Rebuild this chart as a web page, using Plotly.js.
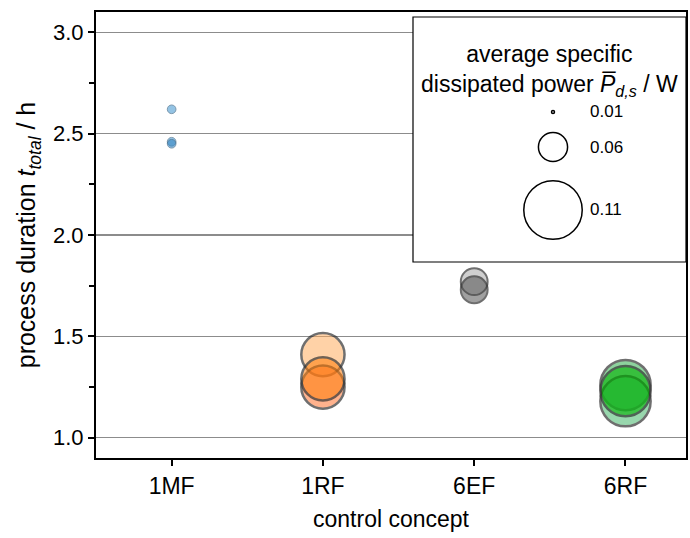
<!DOCTYPE html>
<html>
<head>
<meta charset="utf-8">
<script src="https://cdn.plot.ly/plotly-3.0.1.min.js"></script>
<style>html,body{margin:0;padding:0;background:#fff;}#chart{width:690px;height:538px;}</style>
</head>
<body>
<div id="chart"></div>
<script>
// ---- data ----
const categories = ['1MF', '1RF', '6EF', '6RF'];
// each point: concept, process duration (h), average specific dissipated power (W)
const pointConcept = ['1MF', '1MF', '1MF', '1RF', '1RF', '1RF', '6EF', '6EF', '6RF', '6RF', '6RF'];
const pointDuration = [2.62, 2.46, 2.45, 1.41, 1.25, 1.29, 1.77, 1.73, 1.26, 1.18, 1.23];
const pointPower = [0.025, 0.025, 0.025, 0.084, 0.084, 0.084, 0.056, 0.056, 0.096, 0.096, 0.096];
const legendPower = [0.01, 0.06, 0.11];
const legendLabels = ['0.01', '0.06', '0.11'];

// ---- styles ----
const pointFill = [
  'rgba(75,155,210,0.85)', 'rgba(75,155,210,0.85)', 'rgba(55,135,195,0.85)',
  'rgba(255,170,90,0.75)', 'rgba(255,110,40,0.75)', 'rgba(255,125,10,0.8)',
  'rgba(165,165,165,0.75)', 'rgba(75,75,75,0.75)',
  'rgba(40,170,70,0.75)', 'rgba(60,180,100,0.75)', 'rgba(0,180,0,0.85)'
];
const pointLine = [
  'rgba(60,100,130,0.9)', 'rgba(60,100,130,0.9)', 'rgba(60,100,130,0.9)',
  '#333', '#333', '#333', '#333', '#333', '#333', '#333', '#333'
];
const pointLineW = [1, 1, 1, 2.5, 2.5, 2.5, 2, 2, 2.5, 2.5, 2.5];
// legend placement in pixels (layout only)
const plotL = 96, plotW = 590, plotB = 458, plotH = 446;
const legendCx = 553, legendTextX = 588;
const legendCy = [112, 147, 210];

function powerToSize(p) { return Math.max(3, 586 * p - 6); }
const px = (x) => (x - plotL) / plotW;
const py = (y) => (plotB - y) / plotH;

const font = 'Liberation Sans, Arial, sans-serif';

const traces = [
  {
    type: 'scatter', mode: 'markers',
    x: pointConcept, y: pointDuration,
    marker: {
      size: pointPower.map(powerToSize),
      sizemode: 'diameter',
      color: pointFill,
      line: { color: pointLine, width: pointLineW }
    },
    hoverinfo: 'x+y', showlegend: false
  }
];

const shapes = [
  {
    type: 'rect', xref: 'paper', yref: 'paper',
    x0: px(413), x1: 1.0, y0: py(262), y1: py(17),
    line: { color: '#000', width: 1.2 }, fillcolor: '#fff', layer: 'above'
  }
];
legendPower.forEach((p, i) => {
  const s = powerToSize(p);
  shapes.push({
    type: 'circle', xref: 'paper', yref: 'paper',
    xsizemode: 'pixel', ysizemode: 'pixel',
    xanchor: px(legendCx), yanchor: py(legendCy[i]),
    x0: -s / 2, x1: s / 2, y0: -s / 2, y1: s / 2,
    line: { color: '#000', width: 1.5 }, fillcolor: 'rgba(0,0,0,0)', layer: 'above'
  });
});

const annotations = [
  {
    xref: 'paper', yref: 'paper',
    x: px(549), y: py(70),
    text: 'average specific<br>dissipated power <i>P̅</i><sub><i>d,s</i></sub> / W',
    showarrow: false, align: 'center', xanchor: 'center', yanchor: 'middle',
    font: { family: font, size: 23, color: '#000' }
  }
];
legendLabels.forEach((t, i) => {
  annotations.push({
    xref: 'paper', yref: 'paper', x: px(legendTextX), y: py(legendCy[i]),
    text: t, showarrow: false, xanchor: 'left', yanchor: 'middle',
    font: { family: font, size: 17, color: '#000' }
  });
});

const layout = {
  width: 690, height: 538,
  margin: { l: 96, r: 4, t: 12, b: 80 },
  paper_bgcolor: '#fff', plot_bgcolor: '#fff',
  font: { family: font, color: '#000' },
  showlegend: false,
  xaxis: {
    type: 'category', categoryorder: 'array', categoryarray: categories,
    range: [-0.5, 3.4],
    showline: true, linecolor: '#000', linewidth: 2, mirror: true,
    ticks: 'outside', ticklen: 6, tickwidth: 2, tickcolor: '#000',
    showgrid: false, zeroline: false,
    tickfont: { family: font, size: 23 },
    title: { text: 'control concept', font: { family: font, size: 23 }, standoff: 13 }
  },
  yaxis: {
    range: [0.9, 3.1],
    tickmode: 'array', tickvals: [1.0, 1.5, 2.0, 2.5, 3.0],
    ticktext: ['1.0', '1.5', '2.0', '2.5', '3.0'],
    showline: true, linecolor: '#000', linewidth: 2, mirror: true,
    ticks: 'outside', ticklen: 6, tickwidth: 2, tickcolor: '#000',
    minor: { tickvals: [1.25, 1.75, 2.25, 2.75], ticks: 'outside', ticklen: 5, tickwidth: 2, tickcolor: '#000', showgrid: false },
    showgrid: true, gridcolor: '#8c8c8c', gridwidth: 1.5,
    zeroline: false,
    tickfont: { family: font, size: 22 },
    title: { text: 'process duration <i>t</i><sub><i>total</i></sub> / h', font: { family: font, size: 25 }, standoff: 10 }
  },
  shapes: shapes,
  annotations: annotations
};

Plotly.newPlot('chart', traces, layout, { displayModeBar: false, staticPlot: true });
</script>
</body>
</html>
